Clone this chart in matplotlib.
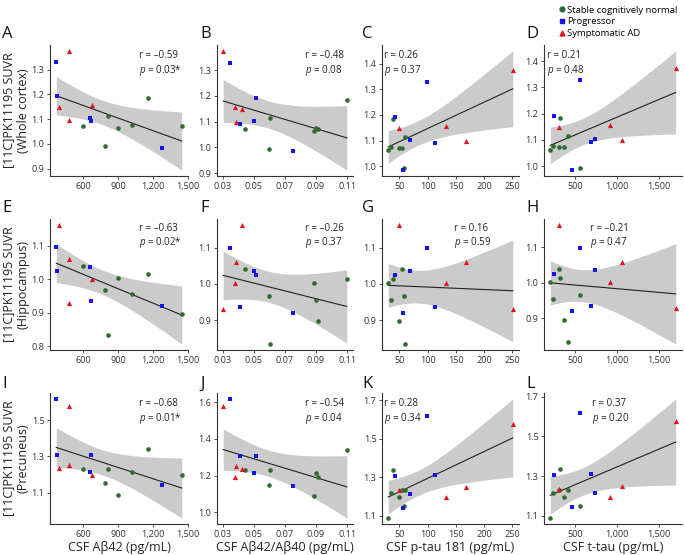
import numpy as np
import matplotlib
matplotlib.use("Agg")
import matplotlib.pyplot as plt
from matplotlib.lines import Line2D
from matplotlib.ticker import FuncFormatter

plt.rcParams['font.family'] = ['Open Sans', 'DejaVu Sans']
plt.rcParams['mathtext.fontset'] = 'custom'
plt.rcParams['mathtext.it'] = 'Open Sans:italic'
plt.rcParams['mathtext.rm'] = 'Open Sans'

# subjects: 7 stable CN, 5 progressors, 4 symptomatic AD
group = ['CN'] * 7 + ['P'] * 5 + ['AD'] * 4
abeta42 = [600, 785, 808, 900, 1015, 1160, 1447, 366, 369, 658, 669, 1281, 476, 678, 390, 476]
ratio = [0.0443, 0.0600, 0.0602, 0.0885, 0.0900, 0.1098, 0.0911,
         0.0348, 0.0517, 0.0504, 0.0412, 0.0751, 0.0304, 0.0378, 0.0424, 0.0384]
ptau = [55, 58, 60, 30, 35, 39, 50, 99, 42, 69, 113, 56, 251, 133, 50, 168]
ttau = [310, 563, 422, 206, 237, 324, 367, 563, 245, 739, 688, 461, 1696, 912, 308, 1061]
suvr_wc = [1.072, 0.993, 1.113, 1.062, 1.075, 1.184, 1.072, 1.330, 1.192, 1.104, 1.092, 0.985,
           1.375, 1.158, 1.148, 1.098]
suvr_hc = [1.040, 0.967, 0.834, 1.003, 0.955, 1.015, 0.897, 1.098, 1.025, 1.036, 0.936, 0.921,
           0.930, 1.002, 1.163, 1.060]
suvr_pc = [1.232, 1.151, 1.231, 1.088, 1.216, 1.338, 1.195, 1.617, 1.307, 1.214, 1.309, 1.142,
           1.577, 1.195, 1.236, 1.251]

r_text = ["\u20130.59", "\u20130.48", "0.26", "0.21",
          "\u20130.63", "\u20130.26", "0.16", "\u20130.21",
          "\u20130.68", "\u20130.54", "0.28", "0.37"]
p_text = ["0.03*", "0.08", "0.37", "0.48",
          "0.02*", "0.37", "0.59", "0.47",
          "0.01*", "0.04", "0.34", "0.20"]
letters = "ABCDEFGHIJKL"

x_vars = [abeta42, ratio, ptau, ttau]
x_ticks = [[600, 900, 1200, 1500], [0.03, 0.05, 0.07, 0.09, 0.11],
           [50, 100, 150, 200, 250], [500, 1000, 1500]]
x_fmt = [lambda v, p: f"{v:,.0f}", lambda v, p: f"{v:.2f}",
         lambda v, p: f"{v:.0f}", lambda v, p: f"{v:,.0f}"]
x_labels = ["CSF A\u03b242 (pg/mL)", "CSF A\u03b242/A\u03b240 (pg/mL)",
            "CSF p-tau 181 (pg/mL)", "CSF t-tau (pg/mL)"]

y_vars = [suvr_wc, suvr_hc, suvr_pc]
y_ticks = [
    [[0.9, 1.0, 1.1, 1.2, 1.3], [0.9, 1.0, 1.1, 1.2, 1.3], [1.0, 1.1, 1.2, 1.3, 1.4], [1.0, 1.1, 1.2, 1.3, 1.4]],
    [[0.8, 0.9, 1.0, 1.1], [0.9, 1.0, 1.1], [0.9, 1.0, 1.1], [0.9, 1.0, 1.1]],
    [[1.1, 1.3, 1.5], [1.0, 1.2, 1.4, 1.6], [1.1, 1.3, 1.5, 1.7], [1.1, 1.3, 1.5, 1.7]],
]
row_names = ["(Whole cortex)", "(Hippocampus)", "(Precuneus)"]

styles = {'CN': ('o', '#2e6b2e', 11, 'Stable cognitively normal'),
          'P': ('s', '#1414f0', 10, 'Progressor'),
          'AD': ('^', '#e0161c', 14, 'Symptomatic AD')}

W, H = 684, 555
col_px = [(50, 188), (217, 353), (382, 519), (544, 682)]
row_px = [(45, 176), (219, 350), (393, 524)]
# left / top of the r,p annotation in pixels
txt_px = [(139, 50), (305, 50), (384, 50), (547, 50),
          (139, 223), (305, 223), (454, 223), (590, 223),
          (139, 398), (305, 398), (384, 398), (592, 398)]
letter_px = [(2, 38), (200, 38), (362, 38), (526, 38)]
letter_row_y = [38, 212, 388]

fig = plt.figure(figsize=(W / 100, H / 100), dpi=100)
grp = np.array(group)
t_crit = 2.1448  # df = 14

for i in range(3):
    for j in range(4):
        k = i * 4 + j
        x0, x1 = col_px[j]
        ytop, ybot = row_px[i]
        ax = fig.add_axes([x0 / W, 1 - ybot / H, (x1 - x0) / W, (ybot - ytop) / H])
        x = np.array(x_vars[j], dtype=float)
        y = np.array(y_vars[i], dtype=float)

        # linear fit with 95% CI
        n = len(x)
        b, a = np.polyfit(x, y, 1)
        xs = np.linspace(x.min(), x.max(), 80)
        resid = y - (a + b * x)
        s = np.sqrt(np.sum(resid ** 2) / (n - 2))
        se = s * np.sqrt(1 / n + (xs - x.mean()) ** 2 / np.sum((x - x.mean()) ** 2))
        fit = a + b * xs
        ax.fill_between(xs, fit - t_crit * se, fit + t_crit * se, color='#cbcbcb', lw=0, zorder=1)
        ax.plot(xs, fit, color='#222222', lw=0.8, zorder=2)

        for g in ['CN', 'P', 'AD']:
            m = grp == g
            mk, c, sz, _ = styles[g]
            ax.scatter(x[m], y[m], marker=mk, color=c, s=sz, lw=0, zorder=3)

        ax.set_xticks(x_ticks[j])
        ax.xaxis.set_major_formatter(FuncFormatter(x_fmt[j]))
        ax.set_yticks(y_ticks[i][j])
        ax.yaxis.set_major_formatter(FuncFormatter(lambda v, p: f"{v:.1f}"))
        for sp in ['top', 'right']:
            ax.spines[sp].set_visible(False)
        for sp in ['left', 'bottom']:
            ax.spines[sp].set_color('#333333')
            ax.spines[sp].set_linewidth(0.8)
        ax.tick_params(length=2.5, width=0.6, color='#333333', labelsize=6.6,
                       labelcolor='#333333', pad=1.5)

        tx, ty = txt_px[k]
        fig.text(tx / W, 1 - ty / H, f"r = {r_text[k]}\n$p$ = {p_text[k]}",
                 ha='left', va='top', fontsize=7, color='#222222', linespacing=1.15)
        fig.text(letter_px[j][0] / W, 1 - letter_row_y[i] / H, letters[k],
                 ha='left', va='baseline', fontsize=12, color='#111111')
        if i == 2:
            fig.text((x0 + x1) / 2 / W, 1 - 548 / H, x_labels[j], ha='center', va='center',
                     fontsize=9, color='#222222')
        if j == 0:
            fig.text(16 / W, 1 - (ytop + ybot) / 2 / H, "[11C]PK11195 SUVR\n" + row_names[i],
                     rotation=90, ha='center', va='center', fontsize=9,
                     color='#222222', linespacing=1.2, multialignment='center')

handles = [Line2D([], [], marker=styles[g][0], color=styles[g][1], ls='', markersize=3.5)
           for g in ['CN', 'P', 'AD']]
fig.legend(handles, [styles[g][3] for g in ['CN', 'P', 'AD']], loc='upper left',
           bbox_to_anchor=(552 / W, 1.0), frameon=False, fontsize=6.8,
           handletextpad=0.1, handlelength=0.9, labelspacing=0.3, borderpad=0.1)

fig.savefig("out.png", dpi=100)
